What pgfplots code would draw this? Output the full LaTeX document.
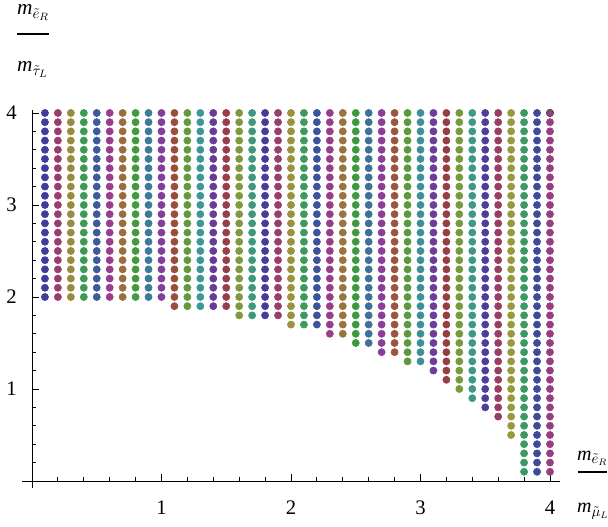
\documentclass[border=0pt]{standalone}
\usepackage{fontspec}
\setmainfont{Liberation Serif}
\usepackage{pgfplots}
\pgfplotsset{compat=1.18}

% Mathematica 6 default style: Hue[0.67 + 0.236068 k, 0.6, 0.6]
\definecolor{c0}{hsb}{0.670000,0.6,0.6}
\definecolor{c1}{hsb}{0.906068,0.6,0.6}
\definecolor{c2}{hsb}{0.142136,0.6,0.6}
\definecolor{c3}{hsb}{0.378204,0.6,0.6}
\definecolor{c4}{hsb}{0.614272,0.6,0.6}
\definecolor{c5}{hsb}{0.850340,0.6,0.6}
\definecolor{c6}{hsb}{0.086408,0.6,0.6}
\definecolor{c7}{hsb}{0.322476,0.6,0.6}
\definecolor{c8}{hsb}{0.558544,0.6,0.6}
\definecolor{c9}{hsb}{0.794612,0.6,0.6}
\definecolor{c10}{hsb}{0.030680,0.6,0.6}
\definecolor{c11}{hsb}{0.266748,0.6,0.6}
\definecolor{c12}{hsb}{0.502816,0.6,0.6}
\definecolor{c13}{hsb}{0.738884,0.6,0.6}
\definecolor{c14}{hsb}{0.974952,0.6,0.6}
\definecolor{c15}{hsb}{0.211020,0.6,0.6}
\definecolor{c16}{hsb}{0.447088,0.6,0.6}
\definecolor{c17}{hsb}{0.683156,0.6,0.6}
\definecolor{c18}{hsb}{0.919224,0.6,0.6}
\definecolor{c19}{hsb}{0.155292,0.6,0.6}
\definecolor{c20}{hsb}{0.391360,0.6,0.6}
\definecolor{c21}{hsb}{0.627428,0.6,0.6}
\definecolor{c22}{hsb}{0.863496,0.6,0.6}
\definecolor{c23}{hsb}{0.099564,0.6,0.6}
\definecolor{c24}{hsb}{0.335632,0.6,0.6}
\definecolor{c25}{hsb}{0.571700,0.6,0.6}
\definecolor{c26}{hsb}{0.807768,0.6,0.6}
\definecolor{c27}{hsb}{0.043836,0.6,0.6}
\definecolor{c28}{hsb}{0.279904,0.6,0.6}
\definecolor{c29}{hsb}{0.515972,0.6,0.6}
\definecolor{c30}{hsb}{0.752040,0.6,0.6}
\definecolor{c31}{hsb}{0.988108,0.6,0.6}
\definecolor{c32}{hsb}{0.224176,0.6,0.6}
\definecolor{c33}{hsb}{0.460244,0.6,0.6}
\definecolor{c34}{hsb}{0.696312,0.6,0.6}
\definecolor{c35}{hsb}{0.932380,0.6,0.6}
\definecolor{c36}{hsb}{0.168448,0.6,0.6}
\definecolor{c37}{hsb}{0.404516,0.6,0.6}
\definecolor{c38}{hsb}{0.640584,0.6,0.6}
\definecolor{c39}{hsb}{0.876652,0.6,0.6}

\begin{document}
\begin{tikzpicture}
\begin{axis}[
    x=97.125pt, y=69pt,
    xmin=-0.077, xmax=4.077,
    ymin=-0.076, ymax=4.03,
    axis lines=middle,
    axis line style={-, line width=0.7pt},
    xtick={1,2,3,4}, ytick={1,2,3,4},
    minor xtick={0.2,0.4,0.6,0.8,1.2,1.4,1.6,1.8,2.2,2.4,2.6,2.8,3.2,3.4,3.6,3.8},
    minor ytick={0.2,0.4,0.6,0.8,1.2,1.4,1.6,1.8,2.2,2.4,2.6,2.8,3.2,3.4,3.6,3.8},
    tick align=inside,
    major tick length=5.25pt, minor tick length=3pt,
    tick style={black, line width=0.6pt},
    /pgf/number format/assume math mode=true,
    tick label style={font=\fontsize{15.5}{18}\selectfont},
    xticklabel style={anchor=north, inner sep=0pt, yshift=-15pt},
    yticklabel style={anchor=east, inner sep=0pt, xshift=-11.25pt},
    clip=false,
    every axis plot/.append style={only marks, mark=*, mark size=2.7pt},
]
\addplot[c0] coordinates {(0.1,2.0)(0.1,2.1)(0.1,2.2)(0.1,2.3)(0.1,2.4)(0.1,2.5)(0.1,2.6)(0.1,2.7)(0.1,2.8)(0.1,2.9)(0.1,3.0)(0.1,3.1)(0.1,3.2)(0.1,3.3)(0.1,3.4)(0.1,3.5)(0.1,3.6)(0.1,3.7)(0.1,3.8)(0.1,3.9)(0.1,4.0)};
\addplot[c1] coordinates {(0.2,2.0)(0.2,2.1)(0.2,2.2)(0.2,2.3)(0.2,2.4)(0.2,2.5)(0.2,2.6)(0.2,2.7)(0.2,2.8)(0.2,2.9)(0.2,3.0)(0.2,3.1)(0.2,3.2)(0.2,3.3)(0.2,3.4)(0.2,3.5)(0.2,3.6)(0.2,3.7)(0.2,3.8)(0.2,3.9)(0.2,4.0)};
\addplot[c2] coordinates {(0.3,2.0)(0.3,2.1)(0.3,2.2)(0.3,2.3)(0.3,2.4)(0.3,2.5)(0.3,2.6)(0.3,2.7)(0.3,2.8)(0.3,2.9)(0.3,3.0)(0.3,3.1)(0.3,3.2)(0.3,3.3)(0.3,3.4)(0.3,3.5)(0.3,3.6)(0.3,3.7)(0.3,3.8)(0.3,3.9)(0.3,4.0)};
\addplot[c3] coordinates {(0.4,2.0)(0.4,2.1)(0.4,2.2)(0.4,2.3)(0.4,2.4)(0.4,2.5)(0.4,2.6)(0.4,2.7)(0.4,2.8)(0.4,2.9)(0.4,3.0)(0.4,3.1)(0.4,3.2)(0.4,3.3)(0.4,3.4)(0.4,3.5)(0.4,3.6)(0.4,3.7)(0.4,3.8)(0.4,3.9)(0.4,4.0)};
\addplot[c4] coordinates {(0.5,2.0)(0.5,2.1)(0.5,2.2)(0.5,2.3)(0.5,2.4)(0.5,2.5)(0.5,2.6)(0.5,2.7)(0.5,2.8)(0.5,2.9)(0.5,3.0)(0.5,3.1)(0.5,3.2)(0.5,3.3)(0.5,3.4)(0.5,3.5)(0.5,3.6)(0.5,3.7)(0.5,3.8)(0.5,3.9)(0.5,4.0)};
\addplot[c5] coordinates {(0.6,2.0)(0.6,2.1)(0.6,2.2)(0.6,2.3)(0.6,2.4)(0.6,2.5)(0.6,2.6)(0.6,2.7)(0.6,2.8)(0.6,2.9)(0.6,3.0)(0.6,3.1)(0.6,3.2)(0.6,3.3)(0.6,3.4)(0.6,3.5)(0.6,3.6)(0.6,3.7)(0.6,3.8)(0.6,3.9)(0.6,4.0)};
\addplot[c6] coordinates {(0.7,2.0)(0.7,2.1)(0.7,2.2)(0.7,2.3)(0.7,2.4)(0.7,2.5)(0.7,2.6)(0.7,2.7)(0.7,2.8)(0.7,2.9)(0.7,3.0)(0.7,3.1)(0.7,3.2)(0.7,3.3)(0.7,3.4)(0.7,3.5)(0.7,3.6)(0.7,3.7)(0.7,3.8)(0.7,3.9)(0.7,4.0)};
\addplot[c7] coordinates {(0.8,2.0)(0.8,2.1)(0.8,2.2)(0.8,2.3)(0.8,2.4)(0.8,2.5)(0.8,2.6)(0.8,2.7)(0.8,2.8)(0.8,2.9)(0.8,3.0)(0.8,3.1)(0.8,3.2)(0.8,3.3)(0.8,3.4)(0.8,3.5)(0.8,3.6)(0.8,3.7)(0.8,3.8)(0.8,3.9)(0.8,4.0)};
\addplot[c8] coordinates {(0.9,2.0)(0.9,2.1)(0.9,2.2)(0.9,2.3)(0.9,2.4)(0.9,2.5)(0.9,2.6)(0.9,2.7)(0.9,2.8)(0.9,2.9)(0.9,3.0)(0.9,3.1)(0.9,3.2)(0.9,3.3)(0.9,3.4)(0.9,3.5)(0.9,3.6)(0.9,3.7)(0.9,3.8)(0.9,3.9)(0.9,4.0)};
\addplot[c9] coordinates {(1.0,2.0)(1.0,2.1)(1.0,2.2)(1.0,2.3)(1.0,2.4)(1.0,2.5)(1.0,2.6)(1.0,2.7)(1.0,2.8)(1.0,2.9)(1.0,3.0)(1.0,3.1)(1.0,3.2)(1.0,3.3)(1.0,3.4)(1.0,3.5)(1.0,3.6)(1.0,3.7)(1.0,3.8)(1.0,3.9)(1.0,4.0)};
\addplot[c10] coordinates {(1.1,1.9)(1.1,2.0)(1.1,2.1)(1.1,2.2)(1.1,2.3)(1.1,2.4)(1.1,2.5)(1.1,2.6)(1.1,2.7)(1.1,2.8)(1.1,2.9)(1.1,3.0)(1.1,3.1)(1.1,3.2)(1.1,3.3)(1.1,3.4)(1.1,3.5)(1.1,3.6)(1.1,3.7)(1.1,3.8)(1.1,3.9)(1.1,4.0)};
\addplot[c11] coordinates {(1.2,1.9)(1.2,2.0)(1.2,2.1)(1.2,2.2)(1.2,2.3)(1.2,2.4)(1.2,2.5)(1.2,2.6)(1.2,2.7)(1.2,2.8)(1.2,2.9)(1.2,3.0)(1.2,3.1)(1.2,3.2)(1.2,3.3)(1.2,3.4)(1.2,3.5)(1.2,3.6)(1.2,3.7)(1.2,3.8)(1.2,3.9)(1.2,4.0)};
\addplot[c12] coordinates {(1.3,1.9)(1.3,2.0)(1.3,2.1)(1.3,2.2)(1.3,2.3)(1.3,2.4)(1.3,2.5)(1.3,2.6)(1.3,2.7)(1.3,2.8)(1.3,2.9)(1.3,3.0)(1.3,3.1)(1.3,3.2)(1.3,3.3)(1.3,3.4)(1.3,3.5)(1.3,3.6)(1.3,3.7)(1.3,3.8)(1.3,3.9)(1.3,4.0)};
\addplot[c13] coordinates {(1.4,1.9)(1.4,2.0)(1.4,2.1)(1.4,2.2)(1.4,2.3)(1.4,2.4)(1.4,2.5)(1.4,2.6)(1.4,2.7)(1.4,2.8)(1.4,2.9)(1.4,3.0)(1.4,3.1)(1.4,3.2)(1.4,3.3)(1.4,3.4)(1.4,3.5)(1.4,3.6)(1.4,3.7)(1.4,3.8)(1.4,3.9)(1.4,4.0)};
\addplot[c14] coordinates {(1.5,1.9)(1.5,2.0)(1.5,2.1)(1.5,2.2)(1.5,2.3)(1.5,2.4)(1.5,2.5)(1.5,2.6)(1.5,2.7)(1.5,2.8)(1.5,2.9)(1.5,3.0)(1.5,3.1)(1.5,3.2)(1.5,3.3)(1.5,3.4)(1.5,3.5)(1.5,3.6)(1.5,3.7)(1.5,3.8)(1.5,3.9)(1.5,4.0)};
\addplot[c15] coordinates {(1.6,1.8)(1.6,1.9)(1.6,2.0)(1.6,2.1)(1.6,2.2)(1.6,2.3)(1.6,2.4)(1.6,2.5)(1.6,2.6)(1.6,2.7)(1.6,2.8)(1.6,2.9)(1.6,3.0)(1.6,3.1)(1.6,3.2)(1.6,3.3)(1.6,3.4)(1.6,3.5)(1.6,3.6)(1.6,3.7)(1.6,3.8)(1.6,3.9)(1.6,4.0)};
\addplot[c16] coordinates {(1.7,1.8)(1.7,1.9)(1.7,2.0)(1.7,2.1)(1.7,2.2)(1.7,2.3)(1.7,2.4)(1.7,2.5)(1.7,2.6)(1.7,2.7)(1.7,2.8)(1.7,2.9)(1.7,3.0)(1.7,3.1)(1.7,3.2)(1.7,3.3)(1.7,3.4)(1.7,3.5)(1.7,3.6)(1.7,3.7)(1.7,3.8)(1.7,3.9)(1.7,4.0)};
\addplot[c17] coordinates {(1.8,1.8)(1.8,1.9)(1.8,2.0)(1.8,2.1)(1.8,2.2)(1.8,2.3)(1.8,2.4)(1.8,2.5)(1.8,2.6)(1.8,2.7)(1.8,2.8)(1.8,2.9)(1.8,3.0)(1.8,3.1)(1.8,3.2)(1.8,3.3)(1.8,3.4)(1.8,3.5)(1.8,3.6)(1.8,3.7)(1.8,3.8)(1.8,3.9)(1.8,4.0)};
\addplot[c18] coordinates {(1.9,1.8)(1.9,1.9)(1.9,2.0)(1.9,2.1)(1.9,2.2)(1.9,2.3)(1.9,2.4)(1.9,2.5)(1.9,2.6)(1.9,2.7)(1.9,2.8)(1.9,2.9)(1.9,3.0)(1.9,3.1)(1.9,3.2)(1.9,3.3)(1.9,3.4)(1.9,3.5)(1.9,3.6)(1.9,3.7)(1.9,3.8)(1.9,3.9)(1.9,4.0)};
\addplot[c19] coordinates {(2.0,1.7)(2.0,1.8)(2.0,1.9)(2.0,2.0)(2.0,2.1)(2.0,2.2)(2.0,2.3)(2.0,2.4)(2.0,2.5)(2.0,2.6)(2.0,2.7)(2.0,2.8)(2.0,2.9)(2.0,3.0)(2.0,3.1)(2.0,3.2)(2.0,3.3)(2.0,3.4)(2.0,3.5)(2.0,3.6)(2.0,3.7)(2.0,3.8)(2.0,3.9)(2.0,4.0)};
\addplot[c20] coordinates {(2.1,1.7)(2.1,1.8)(2.1,1.9)(2.1,2.0)(2.1,2.1)(2.1,2.2)(2.1,2.3)(2.1,2.4)(2.1,2.5)(2.1,2.6)(2.1,2.7)(2.1,2.8)(2.1,2.9)(2.1,3.0)(2.1,3.1)(2.1,3.2)(2.1,3.3)(2.1,3.4)(2.1,3.5)(2.1,3.6)(2.1,3.7)(2.1,3.8)(2.1,3.9)(2.1,4.0)};
\addplot[c21] coordinates {(2.2,1.7)(2.2,1.8)(2.2,1.9)(2.2,2.0)(2.2,2.1)(2.2,2.2)(2.2,2.3)(2.2,2.4)(2.2,2.5)(2.2,2.6)(2.2,2.7)(2.2,2.8)(2.2,2.9)(2.2,3.0)(2.2,3.1)(2.2,3.2)(2.2,3.3)(2.2,3.4)(2.2,3.5)(2.2,3.6)(2.2,3.7)(2.2,3.8)(2.2,3.9)(2.2,4.0)};
\addplot[c22] coordinates {(2.3,1.6)(2.3,1.7)(2.3,1.8)(2.3,1.9)(2.3,2.0)(2.3,2.1)(2.3,2.2)(2.3,2.3)(2.3,2.4)(2.3,2.5)(2.3,2.6)(2.3,2.7)(2.3,2.8)(2.3,2.9)(2.3,3.0)(2.3,3.1)(2.3,3.2)(2.3,3.3)(2.3,3.4)(2.3,3.5)(2.3,3.6)(2.3,3.7)(2.3,3.8)(2.3,3.9)(2.3,4.0)};
\addplot[c23] coordinates {(2.4,1.6)(2.4,1.7)(2.4,1.8)(2.4,1.9)(2.4,2.0)(2.4,2.1)(2.4,2.2)(2.4,2.3)(2.4,2.4)(2.4,2.5)(2.4,2.6)(2.4,2.7)(2.4,2.8)(2.4,2.9)(2.4,3.0)(2.4,3.1)(2.4,3.2)(2.4,3.3)(2.4,3.4)(2.4,3.5)(2.4,3.6)(2.4,3.7)(2.4,3.8)(2.4,3.9)(2.4,4.0)};
\addplot[c24] coordinates {(2.5,1.5)(2.5,1.6)(2.5,1.7)(2.5,1.8)(2.5,1.9)(2.5,2.0)(2.5,2.1)(2.5,2.2)(2.5,2.3)(2.5,2.4)(2.5,2.5)(2.5,2.6)(2.5,2.7)(2.5,2.8)(2.5,2.9)(2.5,3.0)(2.5,3.1)(2.5,3.2)(2.5,3.3)(2.5,3.4)(2.5,3.5)(2.5,3.6)(2.5,3.7)(2.5,3.8)(2.5,3.9)(2.5,4.0)};
\addplot[c25] coordinates {(2.6,1.5)(2.6,1.6)(2.6,1.7)(2.6,1.8)(2.6,1.9)(2.6,2.0)(2.6,2.1)(2.6,2.2)(2.6,2.3)(2.6,2.4)(2.6,2.5)(2.6,2.6)(2.6,2.7)(2.6,2.8)(2.6,2.9)(2.6,3.0)(2.6,3.1)(2.6,3.2)(2.6,3.3)(2.6,3.4)(2.6,3.5)(2.6,3.6)(2.6,3.7)(2.6,3.8)(2.6,3.9)(2.6,4.0)};
\addplot[c26] coordinates {(2.7,1.4)(2.7,1.5)(2.7,1.6)(2.7,1.7)(2.7,1.8)(2.7,1.9)(2.7,2.0)(2.7,2.1)(2.7,2.2)(2.7,2.3)(2.7,2.4)(2.7,2.5)(2.7,2.6)(2.7,2.7)(2.7,2.8)(2.7,2.9)(2.7,3.0)(2.7,3.1)(2.7,3.2)(2.7,3.3)(2.7,3.4)(2.7,3.5)(2.7,3.6)(2.7,3.7)(2.7,3.8)(2.7,3.9)(2.7,4.0)};
\addplot[c27] coordinates {(2.8,1.4)(2.8,1.5)(2.8,1.6)(2.8,1.7)(2.8,1.8)(2.8,1.9)(2.8,2.0)(2.8,2.1)(2.8,2.2)(2.8,2.3)(2.8,2.4)(2.8,2.5)(2.8,2.6)(2.8,2.7)(2.8,2.8)(2.8,2.9)(2.8,3.0)(2.8,3.1)(2.8,3.2)(2.8,3.3)(2.8,3.4)(2.8,3.5)(2.8,3.6)(2.8,3.7)(2.8,3.8)(2.8,3.9)(2.8,4.0)};
\addplot[c28] coordinates {(2.9,1.3)(2.9,1.4)(2.9,1.5)(2.9,1.6)(2.9,1.7)(2.9,1.8)(2.9,1.9)(2.9,2.0)(2.9,2.1)(2.9,2.2)(2.9,2.3)(2.9,2.4)(2.9,2.5)(2.9,2.6)(2.9,2.7)(2.9,2.8)(2.9,2.9)(2.9,3.0)(2.9,3.1)(2.9,3.2)(2.9,3.3)(2.9,3.4)(2.9,3.5)(2.9,3.6)(2.9,3.7)(2.9,3.8)(2.9,3.9)(2.9,4.0)};
\addplot[c29] coordinates {(3.0,1.3)(3.0,1.4)(3.0,1.5)(3.0,1.6)(3.0,1.7)(3.0,1.8)(3.0,1.9)(3.0,2.0)(3.0,2.1)(3.0,2.2)(3.0,2.3)(3.0,2.4)(3.0,2.5)(3.0,2.6)(3.0,2.7)(3.0,2.8)(3.0,2.9)(3.0,3.0)(3.0,3.1)(3.0,3.2)(3.0,3.3)(3.0,3.4)(3.0,3.5)(3.0,3.6)(3.0,3.7)(3.0,3.8)(3.0,3.9)(3.0,4.0)};
\addplot[c30] coordinates {(3.1,1.2)(3.1,1.3)(3.1,1.4)(3.1,1.5)(3.1,1.6)(3.1,1.7)(3.1,1.8)(3.1,1.9)(3.1,2.0)(3.1,2.1)(3.1,2.2)(3.1,2.3)(3.1,2.4)(3.1,2.5)(3.1,2.6)(3.1,2.7)(3.1,2.8)(3.1,2.9)(3.1,3.0)(3.1,3.1)(3.1,3.2)(3.1,3.3)(3.1,3.4)(3.1,3.5)(3.1,3.6)(3.1,3.7)(3.1,3.8)(3.1,3.9)(3.1,4.0)};
\addplot[c31] coordinates {(3.2,1.1)(3.2,1.2)(3.2,1.3)(3.2,1.4)(3.2,1.5)(3.2,1.6)(3.2,1.7)(3.2,1.8)(3.2,1.9)(3.2,2.0)(3.2,2.1)(3.2,2.2)(3.2,2.3)(3.2,2.4)(3.2,2.5)(3.2,2.6)(3.2,2.7)(3.2,2.8)(3.2,2.9)(3.2,3.0)(3.2,3.1)(3.2,3.2)(3.2,3.3)(3.2,3.4)(3.2,3.5)(3.2,3.6)(3.2,3.7)(3.2,3.8)(3.2,3.9)(3.2,4.0)};
\addplot[c32] coordinates {(3.3,1.0)(3.3,1.1)(3.3,1.2)(3.3,1.3)(3.3,1.4)(3.3,1.5)(3.3,1.6)(3.3,1.7)(3.3,1.8)(3.3,1.9)(3.3,2.0)(3.3,2.1)(3.3,2.2)(3.3,2.3)(3.3,2.4)(3.3,2.5)(3.3,2.6)(3.3,2.7)(3.3,2.8)(3.3,2.9)(3.3,3.0)(3.3,3.1)(3.3,3.2)(3.3,3.3)(3.3,3.4)(3.3,3.5)(3.3,3.6)(3.3,3.7)(3.3,3.8)(3.3,3.9)(3.3,4.0)};
\addplot[c33] coordinates {(3.4,0.9)(3.4,1.0)(3.4,1.1)(3.4,1.2)(3.4,1.3)(3.4,1.4)(3.4,1.5)(3.4,1.6)(3.4,1.7)(3.4,1.8)(3.4,1.9)(3.4,2.0)(3.4,2.1)(3.4,2.2)(3.4,2.3)(3.4,2.4)(3.4,2.5)(3.4,2.6)(3.4,2.7)(3.4,2.8)(3.4,2.9)(3.4,3.0)(3.4,3.1)(3.4,3.2)(3.4,3.3)(3.4,3.4)(3.4,3.5)(3.4,3.6)(3.4,3.7)(3.4,3.8)(3.4,3.9)(3.4,4.0)};
\addplot[c34] coordinates {(3.5,0.8)(3.5,0.9)(3.5,1.0)(3.5,1.1)(3.5,1.2)(3.5,1.3)(3.5,1.4)(3.5,1.5)(3.5,1.6)(3.5,1.7)(3.5,1.8)(3.5,1.9)(3.5,2.0)(3.5,2.1)(3.5,2.2)(3.5,2.3)(3.5,2.4)(3.5,2.5)(3.5,2.6)(3.5,2.7)(3.5,2.8)(3.5,2.9)(3.5,3.0)(3.5,3.1)(3.5,3.2)(3.5,3.3)(3.5,3.4)(3.5,3.5)(3.5,3.6)(3.5,3.7)(3.5,3.8)(3.5,3.9)(3.5,4.0)};
\addplot[c35] coordinates {(3.6,0.7)(3.6,0.8)(3.6,0.9)(3.6,1.0)(3.6,1.1)(3.6,1.2)(3.6,1.3)(3.6,1.4)(3.6,1.5)(3.6,1.6)(3.6,1.7)(3.6,1.8)(3.6,1.9)(3.6,2.0)(3.6,2.1)(3.6,2.2)(3.6,2.3)(3.6,2.4)(3.6,2.5)(3.6,2.6)(3.6,2.7)(3.6,2.8)(3.6,2.9)(3.6,3.0)(3.6,3.1)(3.6,3.2)(3.6,3.3)(3.6,3.4)(3.6,3.5)(3.6,3.6)(3.6,3.7)(3.6,3.8)(3.6,3.9)(3.6,4.0)};
\addplot[c36] coordinates {(3.7,0.5)(3.7,0.6)(3.7,0.7)(3.7,0.8)(3.7,0.9)(3.7,1.0)(3.7,1.1)(3.7,1.2)(3.7,1.3)(3.7,1.4)(3.7,1.5)(3.7,1.6)(3.7,1.7)(3.7,1.8)(3.7,1.9)(3.7,2.0)(3.7,2.1)(3.7,2.2)(3.7,2.3)(3.7,2.4)(3.7,2.5)(3.7,2.6)(3.7,2.7)(3.7,2.8)(3.7,2.9)(3.7,3.0)(3.7,3.1)(3.7,3.2)(3.7,3.3)(3.7,3.4)(3.7,3.5)(3.7,3.6)(3.7,3.7)(3.7,3.8)(3.7,3.9)(3.7,4.0)};
\addplot[c37] coordinates {(3.8,0.1)(3.8,0.2)(3.8,0.3)(3.8,0.4)(3.8,0.5)(3.8,0.6)(3.8,0.7)(3.8,0.8)(3.8,0.9)(3.8,1.0)(3.8,1.1)(3.8,1.2)(3.8,1.3)(3.8,1.4)(3.8,1.5)(3.8,1.6)(3.8,1.7)(3.8,1.8)(3.8,1.9)(3.8,2.0)(3.8,2.1)(3.8,2.2)(3.8,2.3)(3.8,2.4)(3.8,2.5)(3.8,2.6)(3.8,2.7)(3.8,2.8)(3.8,2.9)(3.8,3.0)(3.8,3.1)(3.8,3.2)(3.8,3.3)(3.8,3.4)(3.8,3.5)(3.8,3.6)(3.8,3.7)(3.8,3.8)(3.8,3.9)(3.8,4.0)};
\addplot[c38] coordinates {(3.9,0.1)(3.9,0.2)(3.9,0.3)(3.9,0.4)(3.9,0.5)(3.9,0.6)(3.9,0.7)(3.9,0.8)(3.9,0.9)(3.9,1.0)(3.9,1.1)(3.9,1.2)(3.9,1.3)(3.9,1.4)(3.9,1.5)(3.9,1.6)(3.9,1.7)(3.9,1.8)(3.9,1.9)(3.9,2.0)(3.9,2.1)(3.9,2.2)(3.9,2.3)(3.9,2.4)(3.9,2.5)(3.9,2.6)(3.9,2.7)(3.9,2.8)(3.9,2.9)(3.9,3.0)(3.9,3.1)(3.9,3.2)(3.9,3.3)(3.9,3.4)(3.9,3.5)(3.9,3.6)(3.9,3.7)(3.9,3.8)(3.9,3.9)(3.9,4.0)};
\addplot[c39] coordinates {(4.0,0.1)(4.0,0.2)(4.0,0.3)(4.0,0.4)(4.0,0.5)(4.0,0.6)(4.0,0.7)(4.0,0.8)(4.0,0.9)(4.0,1.0)(4.0,1.1)(4.0,1.2)(4.0,1.3)(4.0,1.4)(4.0,1.5)(4.0,1.6)(4.0,1.7)(4.0,1.8)(4.0,1.9)(4.0,2.0)(4.0,2.1)(4.0,2.2)(4.0,2.3)(4.0,2.4)(4.0,2.5)(4.0,2.6)(4.0,2.7)(4.0,2.8)(4.0,2.9)(4.0,3.0)(4.0,3.1)(4.0,3.2)(4.0,3.3)(4.0,3.4)(4.0,3.5)(4.0,3.6)(4.0,3.7)(4.0,3.8)(4.0,3.9)(4.0,4.0)};
% highlighted point
\addplot[c39, mark options={draw=black!70, line width=0.6pt}] coordinates {(4.0,4.0)};

% axis labels (fractions, as in the original)
\node[anchor=base west, inner sep=0pt, font=\fontsize{16}{19}\selectfont] at (axis cs:-0.116,5.065) {\textit{m}$_{\tilde{e}_R}$};
\draw[line width=0.9pt] (axis cs:-0.116,4.859) -- (axis cs:0.131,4.859);
\node[anchor=base west, inner sep=0pt, font=\fontsize{16}{19}\selectfont] at (axis cs:-0.116,4.446) {\textit{m}$_{\tilde{\tau}_L}$};

\node[anchor=base west, inner sep=0pt, font=\fontsize{15}{18}\selectfont] at (axis cs:4.208,0.228) {\textit{m}$_{\tilde{e}_R}$};
\draw[line width=0.9pt] (axis cs:4.216,0.098) -- (axis cs:4.44,0.098);
\node[anchor=base west, inner sep=0pt, font=\fontsize{15}{18}\selectfont] at (axis cs:4.208,-0.348) {\textit{m}$_{\tilde{\mu}_L}$};

\coordinate (bl) at (axis cs:-0.247,-0.5);
\coordinate (tr) at (axis cs:4.448,5.228);
\end{axis}
\pgfresetboundingbox
\path (bl) rectangle (tr);
\end{tikzpicture}
\end{document}
